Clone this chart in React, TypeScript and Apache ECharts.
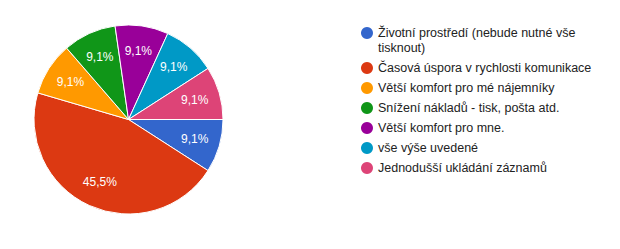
import React, { useEffect, useRef } from "react";
import * as echarts from "echarts";

const categories = [
  "Životní prostředí (nebude nutné vše tisknout)",
  "Časová úspora v rychlosti komunikace",
  "Větší komfort pro mé nájemníky",
  "Snížení nákladů - tisk, pošta atd.",
  "Větší komfort pro mne.",
  "vše výše uvedené",
  "Jednodušší ukládání záznamů",
];
const counts = [1, 5, 1, 1, 1, 1, 1];
const colors = ["#3366cc", "#dc3912", "#ff9900", "#109618", "#990099", "#0099c6", "#dd4477"];

const FONT = 'Arial, "Liberation Sans", sans-serif';

export default function App() {
  const ref = useRef<HTMLDivElement>(null);
  useEffect(() => {
    if (!ref.current) return;
    const chart = echarts.init(ref.current, null, { renderer: "svg" });
    const total = counts.reduce((a, b) => a + b, 0);
    const data = categories.map((name, i) => ({
      name,
      value: counts[i],
      itemStyle: { color: colors[i] },
    }));
    const labelData = categories.map((name, i) => ({
      name,
      value: counts[i],
    }));
    chart.setOption({
      animation: false,
      legend: {
        orient: "vertical",
        left: 361,
        top: 10.5,
        padding: 0,
        itemGap: 5,
        itemWidth: 12,
        itemHeight: 12,
        icon: "circle",
        selectedMode: false,
        itemStyle: { borderWidth: 0 },
        data: categories,
        formatter: (name: string) =>
          name === categories[0]
            ? "\nŽivotní prostředí (nebude nutné vše\ntisknout)"
            : name,
        textStyle: {
          fontFamily: FONT,
          fontSize: 12.5,
          lineHeight: 15,
          color: "#222222",
        },
      },
      series: [
        {
          type: "pie",
          center: [128.5, 119.5],
          radius: [0, 94.5],
          startAngle: 0,
          clockwise: true,
          label: { show: false },
          labelLine: { show: false },
          itemStyle: { borderColor: "#ffffff", borderWidth: 1 },
          emphasis: { disabled: true },
          data,
        },
        {
          type: "pie",
          center: [128.5, 119.5],
          radius: [37.5, 94.5],
          startAngle: 0,
          clockwise: true,
          silent: true,
          itemStyle: { color: "rgba(0,0,0,0)" },
          label: {
            show: true,
            position: "inside",
            color: "#ffffff",
            fontFamily: FONT,
            fontSize: 12,
            formatter: (p: any) =>
              ((p.value / total) * 100).toFixed(1).replace(".", ",") + "%",
          },
          labelLine: { show: false },
          emphasis: { disabled: true },
          data: labelData,
        },
      ],
    });
    return () => chart.dispose();
  }, []);
  return (
    <div
      ref={ref}
      style={{ position: "fixed", left: 0, top: 0, width: 620, height: 249, background: "#fff" }}
    />
  );
}
